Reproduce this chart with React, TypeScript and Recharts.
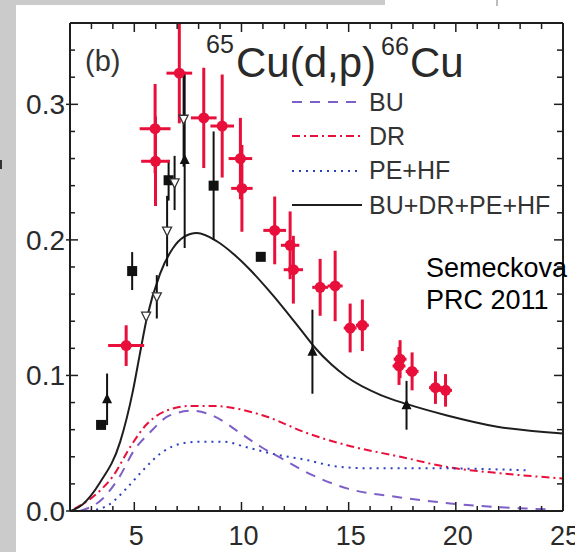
import { ComposedChart, Line, Scatter, ErrorBar, XAxis, YAxis, Legend } from 'recharts';

const FONT = '"Liberation Sans", Arial, sans-serif';
const RED = '#e8103a';
const PURPLE = '#7d5fc7';
const BLUE = '#2b3fbf';
const INK = '#1e1e1e';

const xTicks = [2, 3, 4, 5, 6, 7, 8, 9, 10, 11, 12, 13, 14, 15, 16, 17, 18, 19, 20, 21, 22, 23, 24, 25];
const yTicks = [0, 0.02, 0.04, 0.06, 0.08, 0.1, 0.12, 0.14, 0.16, 0.18, 0.2, 0.22, 0.24, 0.26, 0.28, 0.3, 0.32, 0.34];

// data (x: energy, y: cross section), ex/ey = error bars
const redPoints = [
    { x: 4.62, y: 0.122, ex: 0.84, ey: 0.015 },
    { x: 5.97, y: 0.282, ex: 0.72, ey: 0.033 },
    { x: 5.99, y: 0.258, ex: 0.67, ey: 0.033 },
    { x: 7.1, y: 0.323, ex: 0.6, ey: 0.037 },
    { x: 8.24, y: 0.29, ex: 0.6, ey: 0.037 },
    { x: 9.1, y: 0.284, ex: 0.55, ey: 0.038 },
    { x: 9.95, y: 0.26, ex: 0.55, ey: 0.03 },
    { x: 10.02, y: 0.238, ex: 0.5, ey: 0.032 },
    { x: 11.55, y: 0.207, ex: 0.53, ey: 0.025 },
    { x: 12.27, y: 0.196, ex: 0.43, ey: 0.025 },
    { x: 12.42, y: 0.178, ex: 0.45, ey: 0.025 },
    { x: 13.67, y: 0.165, ex: 0.37, ey: 0.021 },
    { x: 14.37, y: 0.166, ex: 0.35, ey: 0.026 },
    { x: 15.07, y: 0.135, ex: 0.3, ey: 0.018 },
    { x: 15.64, y: 0.137, ex: 0.3, ey: 0.019 },
    { x: 17.4, y: 0.112, ex: 0.3, ey: 0.014 },
    { x: 17.35, y: 0.107, ex: 0.3, ey: 0.014 },
    { x: 17.96, y: 0.103, ex: 0.3, ey: 0.014 },
    { x: 19.05, y: 0.091, ex: 0.3, ey: 0.012 },
    { x: 19.52, y: 0.089, ex: 0.3, ey: 0.012 },
];

const squarePoints = [
    { x: 3.45, y: 0.0635, ey: 0 },
    { x: 4.9, y: 0.177, ey: 0.014 },
    { x: 6.6, y: 0.244, ey: 0.015 },
    { x: 8.7, y: 0.24, ey: 0.04 },
    { x: 10.9, y: 0.1875, ey: 0 },
];

const trianglePoints = [
    { x: 3.73, y: 0.0824, ey: 0.019 },
    { x: 7.35, y: 0.259, ey: 0.065 },
    { x: 13.31, y: 0.1175, ey: 0.031 },
    { x: 17.7, y: 0.078, ey: 0.018 },
];

const openTrianglePoints = [
    { x: 5.55, y: 0.1437, ey: 0 },
    { x: 6.05, y: 0.158, ey: 0.016 },
    { x: 6.53, y: 0.2065, ey: 0.026 },
    { x: 6.88, y: 0.242, ey: 0.02 },
    { x: 7.3, y: 0.289, ey: 0.035 },
];

const totalCurve = [
    { x: 2.03, y: 0 }, { x: 2.6, y: 0.005 }, { x: 3.4, y: 0.021 }, { x: 4.34, y: 0.051 },
    { x: 4.94, y: 0.089 }, { x: 5.25, y: 0.115 }, { x: 5.58, y: 0.142 }, { x: 6.2, y: 0.175 },
    { x: 6.81, y: 0.194 }, { x: 7.3, y: 0.202 }, { x: 7.92, y: 0.205 }, { x: 8.85, y: 0.199 },
    { x: 9.6, y: 0.19 }, { x: 10.4, y: 0.178 }, { x: 11.2, y: 0.164 }, { x: 12.0, y: 0.149 },
    { x: 12.8, y: 0.133 }, { x: 13.4, y: 0.121 }, { x: 14.2, y: 0.108 }, { x: 14.9, y: 0.099 },
    { x: 16.5, y: 0.0855 }, { x: 17.69, y: 0.079 }, { x: 19.59, y: 0.0705 }, { x: 21.93, y: 0.0622 },
    { x: 25, y: 0.0572 },
];

const drCurve = [
    { x: 2.2, y: 0.0015 }, { x: 3.4, y: 0.015 }, { x: 4.02, y: 0.026 }, { x: 4.8, y: 0.047 },
    { x: 5.58, y: 0.064 }, { x: 6.5, y: 0.074 }, { x: 7.6, y: 0.0775 }, { x: 8.7, y: 0.0775 },
    { x: 9.78, y: 0.0755 }, { x: 11.19, y: 0.0695 }, { x: 13.05, y: 0.0575 }, { x: 14.92, y: 0.0485 },
    { x: 17.41, y: 0.04 }, { x: 19.75, y: 0.032 }, { x: 22.08, y: 0.0278 }, { x: 25, y: 0.024 },
];

const buCurve = [
    { x: 2.45, y: 0 }, { x: 3.52, y: 0.009 }, { x: 4.3, y: 0.025 }, { x: 5.0, y: 0.045 },
    { x: 5.7, y: 0.0575 }, { x: 6.65, y: 0.0705 }, { x: 7.75, y: 0.074 }, { x: 8.7, y: 0.07 },
    { x: 9.94, y: 0.0575 }, { x: 10.9, y: 0.0474 }, { x: 11.81, y: 0.0393 }, { x: 13.13, y: 0.0278 },
    { x: 14.92, y: 0.0167 }, { x: 17.41, y: 0.01 }, { x: 19.75, y: 0.0056 }, { x: 22.08, y: 0.0027 },
    { x: 24.4, y: 0.0012 },
];

const pehfCurve = [
    { x: 2.9, y: 0 }, { x: 3.85, y: 0.005 }, { x: 4.64, y: 0.0167 }, { x: 5.4, y: 0.03 },
    { x: 6.33, y: 0.0437 }, { x: 7.27, y: 0.05 }, { x: 8.05, y: 0.0511 }, { x: 9.15, y: 0.0511 },
    { x: 10.25, y: 0.047 }, { x: 11.5, y: 0.042 }, { x: 13.05, y: 0.0376 }, { x: 14.3, y: 0.0332 },
    { x: 15.87, y: 0.0315 }, { x: 19.0, y: 0.0315 }, { x: 23.35, y: 0.03 },
];

const legendItems = [
    { name: 'BU', color: PURPLE, dash: '10 8' },
    { name: 'DR', color: RED, dash: '8 4 2 4' },
    { name: 'PE+HF', color: BLUE, dash: '2 5' },
    { name: 'BU+DR+PE+HF', color: INK, dash: undefined },
];

const BottomTick = ({ x, y, payload }: any) => {
    const major = payload.value % 5 === 0;
    return (
        <g>
            <line x1={x} x2={x} y1={y} y2={y - (major ? 9 : 5)} stroke={INK} strokeWidth={1.5} />
            {major && (
                <text x={x + 2} y={y + 34} textAnchor="middle" fontSize={27} fontFamily={FONT} fill="#2a2a2a">
                    {payload.value}
                </text>
            )}
        </g>
    );
};

const TopTick = ({ x, y, payload }: any) => {
    const major = payload.value % 5 === 0;
    return <line x1={x} x2={x} y1={y} y2={y + (major ? 9 : 6)} stroke={INK} strokeWidth={1.5} />;
};

const LeftTick = ({ x, y, payload }: any) => {
    const major = Math.round(payload.value * 100) % 10 === 0;
    return (
        <g>
            <line x1={x - (major ? 4 : 0)} x2={x + (major ? 8 : 5)} y1={y} y2={y} stroke={INK} strokeWidth={1.5} />
            {major && (
                <text x={x - 5} y={y + 10} textAnchor="end" fontSize={28} fontFamily={FONT} fill="#2a2a2a">
                    {payload.value.toFixed(1)}
                </text>
            )}
        </g>
    );
};

const RightTick = ({ x, y, payload }: any) => {
    const major = Math.round(payload.value * 100) % 10 === 0;
    return <line x1={x} x2={x - (major ? 9 : 6)} y1={y} y2={y} stroke={INK} strokeWidth={1.5} />;
};

const RedDot = ({ cx, cy }: any) => <circle cx={cx} cy={cy} r={5.5} fill={RED} />;
const Square = ({ cx, cy }: any) => <rect x={cx - 5} y={cy - 5} width={10} height={10} fill="#111" />;
const Triangle = ({ cx, cy }: any) => (
    <polygon points={`${cx},${cy - 6} ${cx - 5},${cy + 4} ${cx + 5},${cy + 4}`} fill="#111" />
);
const OpenTriangle = ({ cx, cy }: any) => (
    <polygon points={`${cx - 4.5},${cy - 4} ${cx + 4.5},${cy - 4} ${cx},${cy + 5}`} fill="#fff" stroke="#333" strokeWidth={1.3} />
);

const LegendBox = () => (
    <div style={{ fontFamily: FONT }}>
        {legendItems.map((item) => (
            <div key={item.name} style={{ display: 'flex', alignItems: 'center', height: 34.3 }}>
                <svg width={72} height={6} style={{ marginRight: 6 }}>
                    <line x1={1} x2={71} y1={3} y2={3} stroke={item.color} strokeWidth={2} strokeDasharray={item.dash} />
                </svg>
                <span style={{ fontSize: 25, color: '#333', lineHeight: '25px' }}>{item.name}</span>
            </div>
        ))}
    </div>
);

export default function App() {
    return (
        <div style={{ position: 'absolute', left: 0, top: 0, width: 575, height: 552, background: '#fff', overflow: 'hidden' }}>
            <div style={{ position: 'absolute', left: 0, top: 0, width: 16, height: 552, background: '#cbcbcb' }} />
            <div style={{ position: 'absolute', left: 0, top: 0, width: 385, height: 5, background: '#cbcbcb' }} />
            <div style={{ position: 'absolute', left: 496, top: 0, width: 2, height: 6, background: '#bdbdbd' }} />
            <div style={{ position: 'absolute', left: 0, top: 160, width: 2, height: 9, background: '#333' }} />

            <ComposedChart width={575} height={552} margin={{ top: 0, right: 0, bottom: 0, left: 0 }} style={{ position: 'absolute', left: 0, top: 0 }}>
                <XAxis
                    xAxisId={0}
                    type="number"
                    dataKey="x"
                    domain={[2, 25]}
                    ticks={xTicks}
                    interval={0}
                    height={41}
                    tickSize={0}
                    tickMargin={0}
                    tickLine={false}
                    axisLine={{ stroke: INK, strokeWidth: 2 }}
                    tick={<BottomTick />}
                    allowDataOverflow
                />
                <XAxis
                    xAxisId="top"
                    orientation="top"
                    type="number"
                    dataKey="x"
                    domain={[2, 25]}
                    ticks={xTicks}
                    interval={0}
                    height={23}
                    tickSize={0}
                    tickMargin={0}
                    tickLine={false}
                    axisLine={{ stroke: INK, strokeWidth: 2 }}
                    tick={<TopTick />}
                    allowDataOverflow
                />
                <YAxis
                    yAxisId={0}
                    type="number"
                    dataKey="y"
                    domain={[0, 0.36]}
                    ticks={yTicks}
                    interval={0}
                    width={70}
                    tickSize={0}
                    tickMargin={0}
                    tickLine={false}
                    axisLine={{ stroke: INK, strokeWidth: 2 }}
                    tick={<LeftTick />}
                    allowDataOverflow
                />
                <YAxis
                    yAxisId="right"
                    orientation="right"
                    type="number"
                    dataKey="y"
                    domain={[0, 0.36]}
                    ticks={yTicks}
                    interval={0}
                    width={12}
                    tickSize={0}
                    tickMargin={0}
                    tickLine={false}
                    axisLine={{ stroke: INK, strokeWidth: 2 }}
                    tick={<RightTick />}
                    allowDataOverflow
                />

                <Line data={buCurve} dataKey="y" type="monotone" stroke={PURPLE} strokeWidth={2} strokeDasharray="10 8" dot={false} isAnimationActive={false} />
                <Line data={drCurve} dataKey="y" type="monotone" stroke={RED} strokeWidth={2} strokeDasharray="8 4 2 4" dot={false} isAnimationActive={false} />
                <Line data={pehfCurve} dataKey="y" type="monotone" stroke={BLUE} strokeWidth={2} strokeDasharray="2 5" dot={false} isAnimationActive={false} />
                <Line data={totalCurve} dataKey="y" type="monotone" stroke={INK} strokeWidth={2} dot={false} isAnimationActive={false} />

                <Scatter data={squarePoints} dataKey="y" shape={<Square />} isAnimationActive={false}>
                    <ErrorBar dataKey="ey" direction="y" width={0} stroke="#111" strokeWidth={2} />
                </Scatter>
                <Scatter data={trianglePoints} dataKey="y" shape={<Triangle />} isAnimationActive={false}>
                    <ErrorBar dataKey="ey" direction="y" width={0} stroke="#111" strokeWidth={2} />
                </Scatter>
                <Scatter data={openTrianglePoints} dataKey="y" shape={<OpenTriangle />} isAnimationActive={false}>
                    <ErrorBar dataKey="ey" direction="y" width={0} stroke="#111" strokeWidth={2} />
                </Scatter>
                <Scatter data={redPoints} dataKey="y" shape={<RedDot />} isAnimationActive={false}>
                    <ErrorBar dataKey="ey" direction="y" width={0} stroke={RED} strokeWidth={3} />
                    <ErrorBar dataKey="ex" direction="x" width={0} stroke={RED} strokeWidth={3} />
                </Scatter>

                <Legend
                    layout="vertical"
                    align="center"
                    verticalAlign="middle"
                    content={<LegendBox />}
                    wrapperStyle={{ left: 291, top: 85, width: 280, height: 140 }}
                />
            </ComposedChart>

            <div style={{ position: 'absolute', left: 85, top: 44, fontFamily: FONT, fontSize: 29, color: '#333', lineHeight: '34px' }}>(b)</div>
            <div style={{ position: 'absolute', left: 206, top: 22, fontFamily: FONT, color: '#2a2a2a', whiteSpace: 'nowrap', lineHeight: 1 }}>
                <span style={{ position: 'absolute', left: 0, top: 10, fontSize: 25 }}>65</span>
                <span style={{ position: 'absolute', left: 30, top: 20, fontSize: 42 }}>Cu(d,p)</span>
                <span style={{ position: 'absolute', left: 175, top: 12, fontSize: 25 }}>66</span>
                <span style={{ position: 'absolute', left: 204, top: 20, fontSize: 42 }}>Cu</span>
            </div>
            <div style={{ position: 'absolute', left: 426, top: 252, fontFamily: FONT, fontSize: 27, color: '#000', lineHeight: '32px' }}>
                Semeckova<br />PRC 2011
            </div>
        </div>
    );
}
